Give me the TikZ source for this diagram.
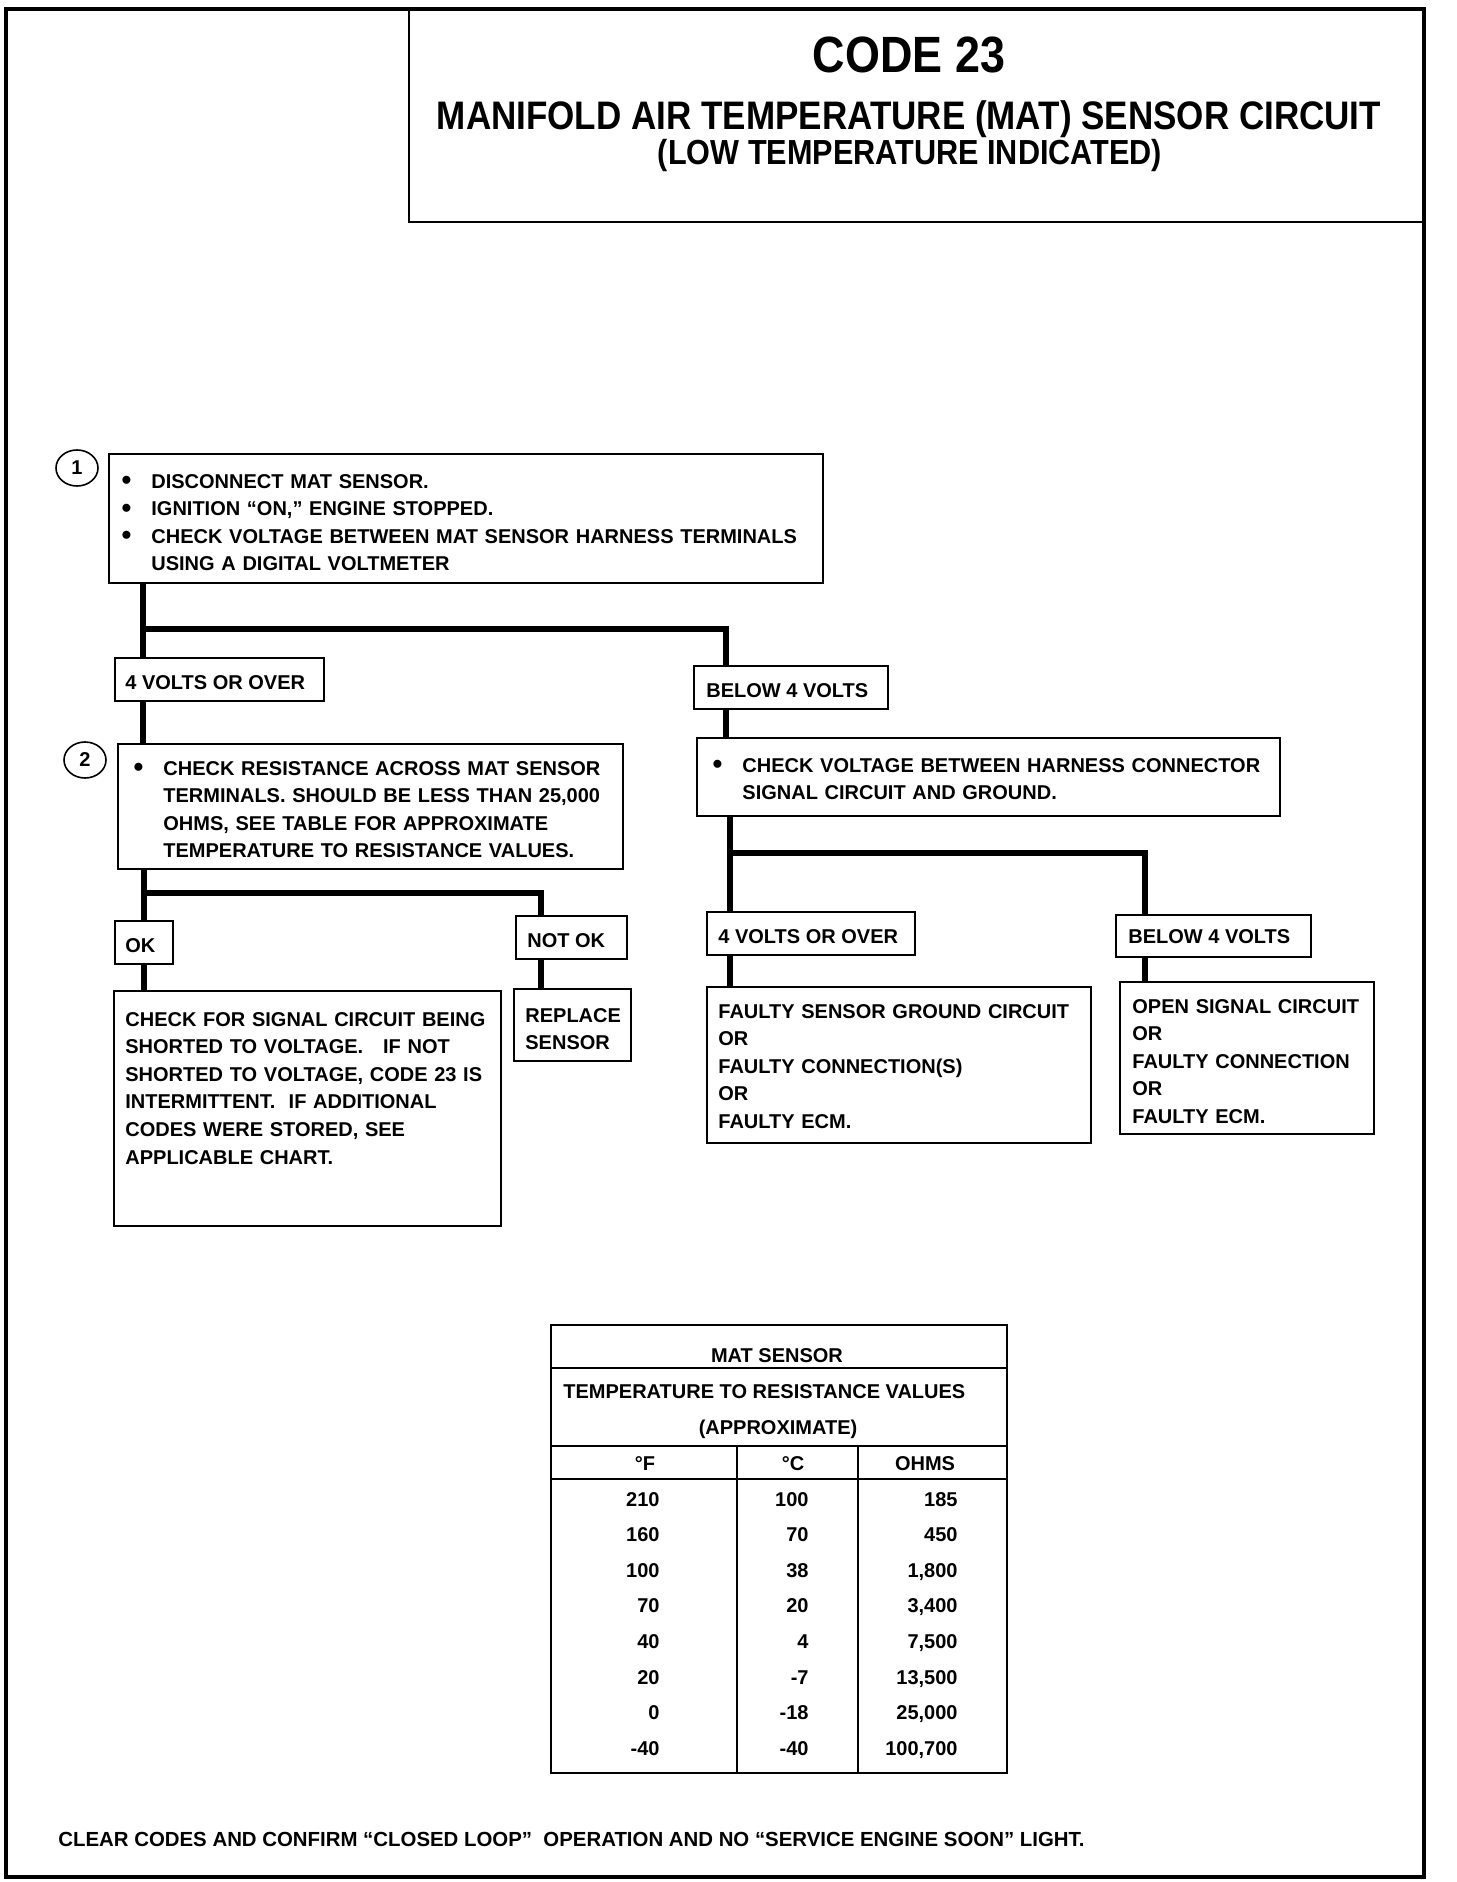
\documentclass[tikz,border=0pt]{standalone}
\usepackage{fontspec}
\setmainfont{Liberation Sans}
\newfontfamily\titlefont{Liberation Sans}[FakeStretch=0.88]
\usetikzlibrary{fit,calc,shapes.geometric}
\newcommand\bul{\leavevmode\llap{\raisebox{-0.8pt}{\fontsize{14}{14}\selectfont\textbullet}\hspace{10pt}}}
\begin{document}
\begin{tikzpicture}[x=0.5pt,y=-0.5pt,
  box/.style={draw,line width=1.2pt,inner sep=0pt},
  conn/.style={line width=3pt,line join=miter},
  txt/.style={inner sep=0pt,anchor=base west,align=left,font=\bfseries\fontsize{10}{13.8}\selectfont},
  mtxt/.style={txt,text width=#1},
  ctxt/.style={inner sep=0pt,anchor=base,font=\bfseries\fontsize{10}{13.8}\selectfont},
  rtxt/.style={inner sep=0pt,anchor=base east,font=\bfseries\fontsize{10}{13.8}\selectfont},
  numb/.style={draw,line width=0.8pt,ellipse,inner sep=0pt,minimum width=21pt,minimum height=18pt,font=\bfseries\fontsize{10}{12}\selectfont},
  tline/.style={line width=1pt}
]
\useasboundingbox (0,0) rectangle (1456,1882);
\fill[white] (0,0) rectangle (1456,1882);
% page frame
\draw[line width=2pt] (6,9) rectangle (1424,1877);

% header
\node[box,line width=1pt,fit={(409,9) (1424,222)}] (hdr) {};
\node[inner sep=0pt,anchor=base,font=\titlefont\bfseries\fontsize{25.5}{30}\selectfont] (t1) at (909,73) {CODE 23};
\node[inner sep=0pt,anchor=base,font=\titlefont\bfseries\fontsize{19.9}{24}\selectfont] (t2) at (909,130) {MANIFOLD AIR TEMPERATURE (MAT) SENSOR CIRCUIT};
\node[inner sep=0pt,anchor=base,font=\titlefont\bfseries\fontsize{17.4}{21}\selectfont] (t3) at (910,165) {(LOW TEMPERATURE INDICATED)};

% step numbers
\node[numb] (n1) at (77,468) {1};
\node[numb] (n2) at (85,760) {2};

% boxes
\node[box,fit={(109,454) (823,583)}] (b1) {};
\node[box,fit={(115,658) (324,701)}] (v1) {};
\node[box,fit={(694,666) (888,709)}] (v2) {};
\node[box,fit={(118,744) (623,869)}] (b2) {};
\node[box,fit={(697,738) (1280,816)}] (b3) {};
\node[box,fit={(115,921) (173,964)}] (ok) {};
\node[box,fit={(516,916) (627,959)}] (nok) {};
\node[box,fit={(114,991) (501,1226)}] (b4) {};
\node[box,fit={(514,989) (631,1061)}] (rep) {};
\node[box,fit={(707,912) (915,955)}] (v3) {};
\node[box,fit={(1116,915) (1311,957)}] (v4) {};
\node[box,fit={(707,987) (1091,1143)}] (b5) {};
\node[box,fit={(1120,982) (1374,1134)}] (b6) {};

% box texts
\node[mtxt=340pt] (b1t) at (151,488) {\bul DISCONNECT MAT SENSOR.\\
\bul IGNITION “ON,” ENGINE STOPPED.\\
\bul CHECK VOLTAGE BETWEEN MAT SENSOR HARNESS TERMINALS\\
USING A DIGITAL VOLTMETER};
\node[txt] (v1t) at (125,689) {4 VOLTS OR OVER};
\node[txt] (v2t) at (706,697) {BELOW 4 VOLTS};
\node[mtxt=230pt] (b2t) at (163,775) {\bul CHECK RESISTANCE ACROSS MAT SENSOR\\
TERMINALS. SHOULD BE LESS THAN 25,000\\
OHMS, SEE TABLE FOR APPROXIMATE\\
TEMPERATURE TO RESISTANCE VALUES.};
\node[mtxt=270pt] (b3t) at (742,772) {\bul CHECK VOLTAGE BETWEEN HARNESS CONNECTOR\\
SIGNAL CIRCUIT AND GROUND.};
\node[txt] (okt) at (125,952) {OK};
\node[txt] (nokt) at (527,947) {NOT OK};
\node[mtxt=190pt] (b4t) at (125,1026) {CHECK FOR SIGNAL CIRCUIT BEING\\
SHORTED TO VOLTAGE.\ \ \ IF NOT\\
SHORTED TO VOLTAGE, CODE 23 IS\\
INTERMITTENT.\ \ IF ADDITIONAL\\
CODES WERE STORED, SEE\\
APPLICABLE CHART.};
\node[mtxt=55pt] (rept) at (525,1022) {REPLACE\\ SENSOR};
\node[txt] (v3t) at (718,943) {4 VOLTS OR OVER};
\node[txt] (v4t) at (1128,943) {BELOW 4 VOLTS};
\node[mtxt=185pt] (b5t) at (718,1018) {FAULTY SENSOR GROUND CIRCUIT\\
OR\\
FAULTY CONNECTION(S)\\
OR\\
FAULTY ECM.};
\node[mtxt=120pt] (b6t) at (1132,1013) {OPEN SIGNAL CIRCUIT\\
OR\\
FAULTY CONNECTION\\
OR\\
FAULTY ECM.};

% connectors
\coordinate (jA) at (143,629);
\coordinate (jB) at (726,629);
\coordinate (jC) at (144,893);
\coordinate (jD) at (541,893);
\coordinate (jE) at (730,853);
\coordinate (jF) at (1145,853);
\draw[conn] (b1.south -| jA) -- (v1.north -| jA);
\draw[conn] (jA) -| (v2.north -| jB);
\draw[conn] (v1.south -| jA) -- (b2.north -| jA);
\draw[conn] (v2.south -| jB) -- (b3.north -| jB);
\draw[conn] (b2.south -| jC) -- (ok.north -| jC);
\draw[conn] (jC) -| (nok.north -| jD);
\draw[conn] (ok.south -| jC) -- (b4.north -| jC);
\draw[conn] (nok.south -| jD) -- (rep.north -| jD);
\draw[conn] (b3.south -| jE) -- (v3.north -| jE);
\draw[conn] (jE) -| (v4.north -| jF);
\draw[conn] (v3.south -| jE) -- (b5.north -| jE);
\draw[conn] (v4.south -| jF) -- (b6.north -| jF);

% table
\node[box,line width=1pt,fit={(551,1325) (1007,1773)}] (tbl) {};
\draw[tline] (551,1368) -- (1007,1368);
\draw[tline] (551,1446) -- (1007,1446);
\draw[tline] (551,1479) -- (1007,1479);
\draw[tline] (737,1446) -- (737,1773);
\draw[tline] (858,1446) -- (858,1773);
\node[ctxt] (th1) at (777,1362) {MAT SENSOR};
\node[txt] (th2) at (563,1398) {TEMPERATURE TO RESISTANCE VALUES};
\node[ctxt] (th3) at (778,1434) {(APPROXIMATE)};
\node[ctxt] (hf) at (645,1470) {°F};
\node[ctxt] (hc) at (793,1470) {°C};
\node[ctxt] (ho) at (925,1470) {OHMS};
\foreach \f/\c/\o [count=\i] in {210/100/185,160/70/450,100/38/{1,800},70/20/{3,400},40/4/{7,500},20/-7/{13,500},0/-18/{25,000},-40/-40/{100,700}}{
  \node[rtxt] (f\i) at (660,{1506+35.6*(\i-1)}) {\f};
  \node[rtxt] (c\i) at (809,{1506+35.6*(\i-1)}) {\c};
  \node[rtxt] (o\i) at (958,{1506+35.6*(\i-1)}) {\o};
}

% footer
\node[txt,font=\bfseries\fontsize{10.2}{13.8}\selectfont] (foot) at (58,1846) {CLEAR CODES AND CONFIRM “CLOSED LOOP”\ \ OPERATION AND NO “SERVICE ENGINE SOON” LIGHT.};
\end{tikzpicture}
\end{document}
